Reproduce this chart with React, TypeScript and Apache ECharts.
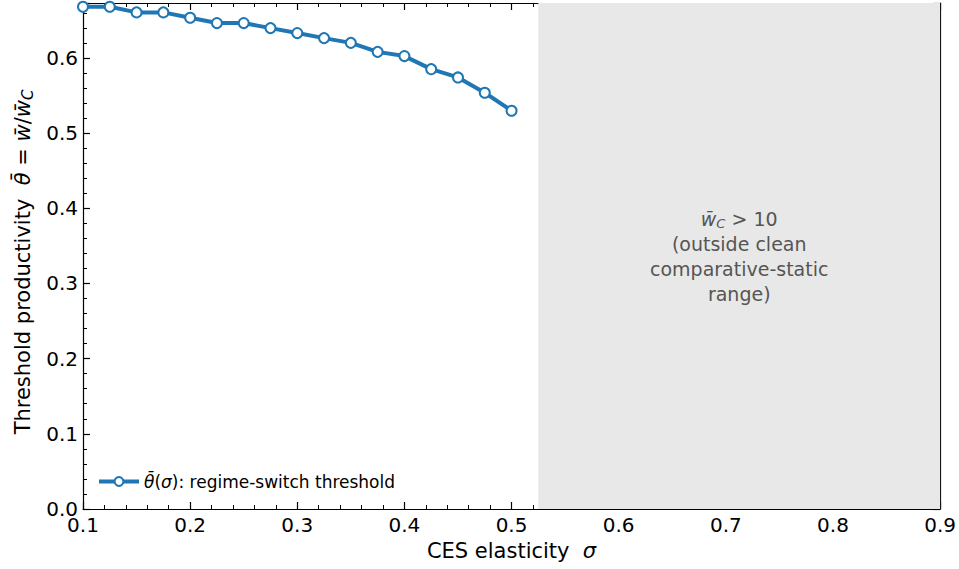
import React, { useEffect, useRef } from "react";
import * as echarts from "echarts";

const sigma = [0.1, 0.125, 0.15, 0.175, 0.2, 0.225, 0.25, 0.275, 0.3, 0.325, 0.35, 0.375, 0.4, 0.425, 0.45, 0.475, 0.5];
const theta = [0.668, 0.668, 0.6605, 0.6605, 0.6533, 0.6463, 0.6463, 0.6396, 0.633, 0.6263, 0.620, 0.608, 0.6024, 0.585, 0.574, 0.5536, 0.5297];
const shadeRange = [0.525, 0.9];
const xTicks = { min: 0.1, max: 0.9, interval: 0.1 };
const yTicks = { min: 0, max: 0.673, interval: 0.1 };

const FONT = "DejaVu Sans";

export default function App() {
  const ref = useRef<HTMLDivElement>(null);
  useEffect(() => {
    const chart = echarts.init(ref.current!, null, { renderer: "svg" });
    const axisCommon = {
      axisLine: { show: true, onZero: false, lineStyle: { color: "#000", width: 1.2 } },
      axisTick: { show: true, inside: true, length: 7, lineStyle: { color: "#000", width: 1.2 } },
      minorTick: { show: true, splitNumber: 5, length: 4, lineStyle: { color: "#000", width: 1 } },
      splitLine: { show: false },
      minorSplitLine: { show: false },
    };
    chart.setOption({
      animation: false,
      textStyle: { fontFamily: FONT },
      grid: { left: 83, right: 18, top: 3, bottom: 60 },
      xAxis: [
        {
          type: "value",
          ...xTicks,
          ...axisCommon,
          axisLabel: { fontSize: 20, color: "#000", fontFamily: FONT, margin: 6, formatter: (v: number) => v.toFixed(1) },
          name: "CES elasticity  {i|σ}",
          nameLocation: "middle",
          nameGap: 31,
          nameTextStyle: {
            fontSize: 21,
            color: "#000",
            fontFamily: FONT,
            rich: { i: { fontStyle: "italic", fontSize: 21, fontFamily: FONT } },
          },
        },
        {
          type: "value",
          position: "top",
          ...xTicks,
          ...axisCommon,
          axisLabel: { show: false },
        },
      ],
      yAxis: [
        {
          type: "value",
          ...yTicks,
          ...axisCommon,
          axisLabel: {
            fontSize: 20,
            color: "#000",
            fontFamily: FONT,
            margin: 5,
            showMaxLabel: false,
            formatter: (v: number) => v.toFixed(1),
          },
          name: "Threshold productivity  {i|θ̄} = {i|w̄}/{i|w̄}{sub|C}",
          nameLocation: "middle",
          nameGap: 47,
          nameRotate: 90,
          nameTextStyle: {
            fontSize: 21,
            color: "#000",
            fontFamily: FONT,
            padding: [0, 12, 0, 0],
            rich: {
              i: { fontStyle: "italic", fontSize: 21, fontFamily: FONT },
              sub: { fontStyle: "italic", fontSize: 15, fontFamily: FONT, verticalAlign: "bottom", padding: [9, 0, 0, 0] },
            },
          },
        },
        {
          type: "value",
          position: "right",
          ...yTicks,
          ...axisCommon,
          axisLabel: { show: false },
        },
      ],
      legend: {
        left: 92,
        bottom: 74,
        itemWidth: 40,
        itemHeight: 11,
        itemGap: 10,
        lineStyle: { width: 4, color: "#1f77b4" },
        itemStyle: { color: "#fff", borderColor: "#1f77b4", borderWidth: 2 },
        textStyle: {
          fontSize: 17,
          color: "#000",
          fontFamily: FONT,
          rich: { i: { fontStyle: "italic", fontSize: 17, fontFamily: FONT } },
        },
        formatter: () => "{i|θ̄}({i|σ}): regime-switch threshold",
        data: ["theta"],
      },
      series: [
        {
          name: "theta",
          type: "line",
          data: sigma.map((s, i) => [s, theta[i]]),
          lineStyle: { color: "#1f77b4", width: 4 },
          itemStyle: { color: "#fff", borderColor: "#1f77b4", borderWidth: 2 },
          symbol: "circle",
          symbolSize: 10,
          showAllSymbol: true,
          z: 3,
          markArea: {
            silent: true,
            itemStyle: { color: "#e8e8e8" },
            label: {
              show: true,
              position: "inside",
              align: "center",
              color: "#555",
              fontSize: 19,
              fontFamily: FONT,
              lineHeight: 25,
              formatter: "{i|w̄}{sub|C} > 10\n(outside clean\ncomparative-static\nrange)",
              rich: {
                i: { fontStyle: "italic", fontSize: 19, color: "#555", fontFamily: FONT, lineHeight: 25 },
                sub: { fontStyle: "italic", fontSize: 13, color: "#555", fontFamily: FONT, lineHeight: 25, padding: [9, 0, 0, 0] },
              },
            },
            data: [[{ xAxis: shadeRange[0] }, { xAxis: shadeRange[1] }]],
          },
        },
      ],
    });
    return () => chart.dispose();
  }, []);
  return <div ref={ref} style={{ width: 959, height: 569, position: "absolute", left: 0, top: 0 }} />;
}
